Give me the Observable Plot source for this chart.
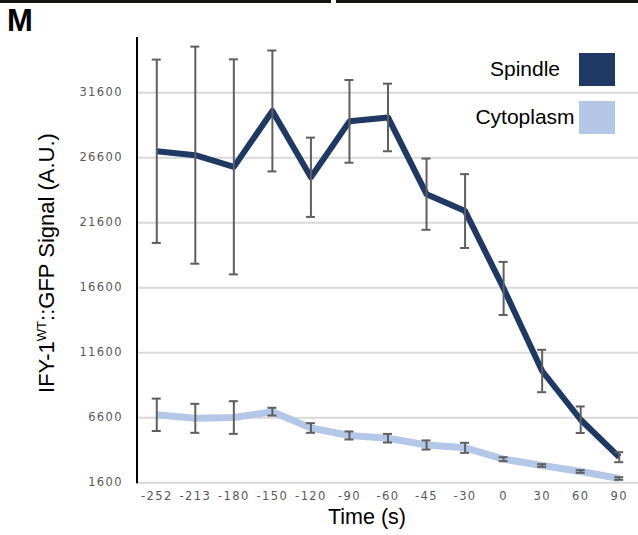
<!DOCTYPE html>
<html>
<head>
<meta charset="utf-8">
<script src="https://cdn.jsdelivr.net/npm/d3@7"></script>
<script src="https://cdn.jsdelivr.net/npm/@observablehq/plot@0.6"></script>
<style>
  html, body { margin: 0; padding: 0; background: #fff; }
  #wrap { position: relative; width: 638px; height: 535px; overflow: hidden; font-family: "Liberation Sans", Arial, sans-serif; color: #000; }
  #wrap svg { position: absolute; left: 0; top: 0; }
  g[aria-label="y-axis tick label"] text, g[aria-label="x-axis tick label"] text { letter-spacing: 1.4px; }
  .bar { position: absolute; top: 0; height: 3px; background: #15150f; }
  .panel { position: absolute; left: 7px; top: 5px; font-size: 31px; font-weight: bold; line-height: 1; }
  .ylab { position: absolute; left: 47px; top: 263px; transform: translate(-50%, -50%) rotate(-90deg); font-size: 22px; white-space: nowrap; line-height: 1.15; }
  .ylab sup { font-size: 13px; vertical-align: 8px; line-height: 0; }
  .xlab { position: absolute; left: 367px; top: 517px; transform: translate(-50%, -50%); font-size: 21.5px; white-space: nowrap; line-height: 1.15; }
  .leg-text { position: absolute; transform: translate(-50%, -50%); font-size: 21px; white-space: nowrap; line-height: 1.15; }
  .leg-sw { position: absolute; width: 36px; height: 33px; }
</style>
</head>
<body>
<div id="wrap"></div>
<script>
// Categories (time, s)
const times = ["-252", "-213", "-180", "-150", "-120", "-90", "-60", "-45", "-30", "0", "30", "60", "90"];
// Spindle series mean and error
const spindle = [27100, 26800, 25900, 30200, 25100, 29400, 29700, 23800, 22500, 16550, 10200, 6450, 3570];
const spindleErr = [7050, 8350, 8270, 4650, 3050, 3180, 2600, 2740, 2840, 2040, 1630, 1020, 385];
// Cytoplasm series mean and error
const cytoplasm = [6830, 6560, 6620, 7070, 5815, 5240, 5030, 4510, 4290, 3415, 2930, 2470, 1930];
const cytoplasmErr = [1245, 1115, 1255, 300, 370, 310, 330, 350, 385, 150, 100, 100, 100];
// Y tick labels
const yTicks = [1600, 6600, 11600, 16600, 21600, 26600, 31600];
const seriesNames = ["Spindle", "Cytoplasm"];
const seriesColors = ["#203864", "#b4c7e7"];

const rows = times.map((t, i) => ({
  time: t,
  spindle: spindle[i], spindleErr: spindleErr[i],
  cyto: cytoplasm[i], cytoErr: cytoplasmErr[i]
}));
const bars = [];
rows.forEach(r => {
  bars.push({time: r.time, lo: r.spindle - r.spindleErr, hi: r.spindle + r.spindleErr});
  bars.push({time: r.time, lo: r.cyto - r.cytoErr, hi: r.cyto + r.cytoErr});
});
const caps = bars.flatMap(b => [{time: b.time, y: b.lo}, {time: b.time, y: b.hi}]);

const W = 638, H = 535, mL = 137, mR = 0, mT = 37, mB = 52.7;
const bw = (W - mL - mR) / times.length;
const capInset = (bw - 9) / 2;

const axisLine = (index, scales, values, dims) => {
  const g = d3.create("svg:line")
    .attr("x1", dims.marginLeft).attr("x2", dims.marginLeft)
    .attr("y1", dims.marginTop).attr("y2", dims.height - dims.marginBottom + 1)
    .attr("stroke", "#000").attr("stroke-width", 2);
  return g.node();
};

const plot = Plot.plot({
  width: W, height: H,
  marginLeft: mL, marginRight: mR, marginTop: mT, marginBottom: mB,
  x: {type: "band", domain: times, padding: 0, round: false},
  y: {domain: [1600, 35850]},
  style: {background: "transparent", fontFamily: "'DejaVu Sans', sans-serif", overflow: "visible"},
  marks: [
    Plot.ruleY(yTicks, {stroke: "#d9d9d9", strokeWidth: 2}),
    Plot.axisY({ticks: yTicks, tickSize: 0, tickPadding: 14.5, fontSize: 11.5, fill: "#595959", label: null, tickFormat: d => String(d)}),
    Plot.axisX({tickSize: 0, tickPadding: 9, fontSize: 11.5, fill: "#595959", label: null}),
    Plot.line(rows, {x: "time", y: "cyto", stroke: seriesColors[1], strokeWidth: 7, strokeLinejoin: "round", strokeLinecap: "butt"}),
    Plot.line(rows, {x: "time", y: "spindle", stroke: seriesColors[0], strokeWidth: 6, strokeLinejoin: "round", strokeLinecap: "butt"}),
    Plot.ruleX(bars, {x: "time", y1: "lo", y2: "hi", stroke: "#5f5f5f", strokeWidth: 2}),
    Plot.tickY(caps, {x: "time", y: "y", stroke: "#5f5f5f", strokeWidth: 2, insetLeft: capInset, insetRight: capInset}),
    axisLine
  ]
});

const wrap = document.getElementById("wrap");
wrap.appendChild(plot);

function addDiv(cls, html, style) {
  const d = document.createElement("div");
  d.className = cls;
  if (html != null) d.innerHTML = html;
  Object.assign(d.style, style || {});
  wrap.appendChild(d);
  return d;
}
addDiv("bar", null, {left: "0px", width: "331px"});
addDiv("bar", null, {left: "336px", width: "302px"});
addDiv("panel", "M");
addDiv("ylab", "IFY-1<sup>WT</sup>::GFP Signal (A.U.)");
addDiv("xlab", "Time (s)");
const legY = [69, 117];
seriesNames.forEach((n, i) => {
  addDiv("leg-text", n, {left: "525px", top: legY[i] + "px"});
  addDiv("leg-sw", null, {left: "579px", top: (legY[i] - 16) + "px", background: seriesColors[i]});
});
</script>
</body>
</html>
